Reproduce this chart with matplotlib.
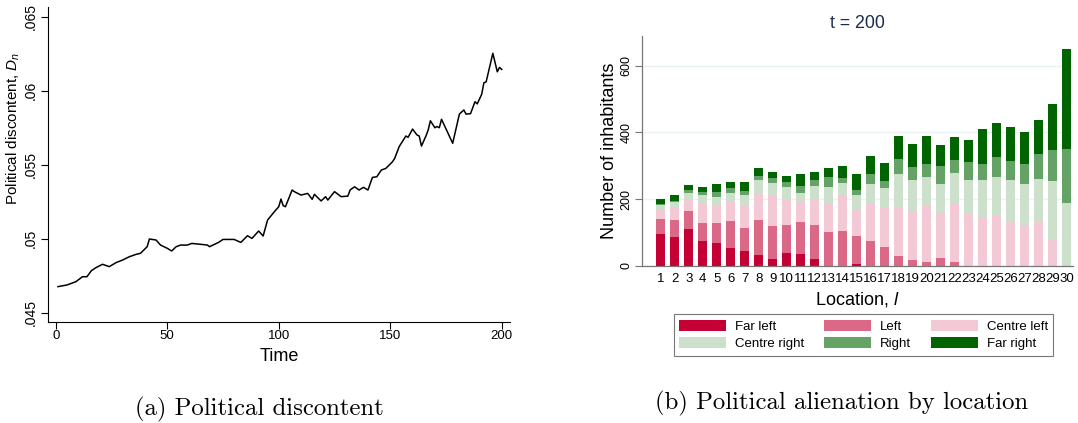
import matplotlib
matplotlib.use("Agg")
import matplotlib.pyplot as plt
import numpy as np

plt.rcParams['font.family'] = ['Liberation Sans', 'DejaVu Sans']
plt.rcParams['mathtext.fontset'] = 'custom'
plt.rcParams['mathtext.it'] = 'Liberation Sans:italic'
plt.rcParams['mathtext.rm'] = 'Liberation Sans'

# --- panel (a): political discontent over time ---
time = [1, 5, 9, 12, 14, 16, 18, 21, 24, 27, 30, 33, 36, 38, 41, 42, 45, 47,
        50, 52, 54, 56, 59, 61, 65, 68, 69, 73, 75, 78, 80, 83, 86, 88, 91,
        93, 95, 98, 100, 101, 102, 103, 106, 107, 110, 113, 115, 116, 119,
        121, 122, 125, 128, 131, 132, 134, 136, 138, 140, 142, 144, 146, 148,
        151, 152, 154, 157, 158, 160, 162, 163, 164, 166, 167, 168, 170, 171,
        172, 173, 178, 181, 183, 184, 186, 188, 189, 191, 192, 193, 196, 198,
        199, 200]
discontent = [.04676, .04687, .04709, .04743, .04743, .04784, .04804, .04827,
              .04811, .04838, .04856, .04878, .04894, .04901, .04946, .04998,
              .04991, .04957, .04935, .04917, .04946, .04957, .04957, .04968,
              .04962, .04957, .04946, .04975, .04995, .04995, .04995, .04975,
              .05020, .05002, .05052, .05018, .05126, .05182, .05216, .05268,
              .05223, .05216, .05329, .05318, .05295, .05306, .05266, .05300,
              .05255, .05284, .05261, .05318, .05284, .05288, .05329, .05351,
              .05329, .05347, .05329, .05414, .05419, .05464, .05475, .05520,
              .05543, .05622, .05694, .05685, .05741, .05701, .05694, .05626,
              .05694, .05734, .05797, .05750, .05758, .05750, .05807, .05645,
              .05842, .05870, .05842, .05845, .05926, .05911, .05976, .06054,
              .06060, .06253, .06128, .06158, .06144]
y_ticks_a = [.045, .05, .055, .06, .065]
y_labels_a = ['.045', '.05', '.055', '.06', '.065']
x_ticks_a = [0, 50, 100, 150, 200]

# --- panel (b): inhabitants by location and political position ---
locations = list(range(1, 31))
groups = ['Far left', 'Left', 'Centre left', 'Centre right', 'Right', 'Far right']
far_left = [94, 87, 111, 74, 69, 53, 43, 32, 19, 37, 35, 19, 0, 0, 4,
            0, 0, 0, 0, 0, 0, 0, 0, 0, 0, 0, 0, 0, 0, 0]
left = [46, 51, 52, 54, 58, 81, 70, 105, 99, 86, 95, 104, 101, 105, 85,
        73, 57, 30, 18, 11, 23, 12, 0, 0, 0, 0, 0, 0, 0, 0]
centre_left = [30, 37, 34, 60, 53, 58, 66, 81, 93, 75, 63, 73, 87, 103, 80,
               114, 116, 147, 144, 170, 134, 173, 155, 145, 149, 133, 121, 131, 81, 0]
centre_right = [13, 15, 22, 25, 27, 25, 32, 39, 38, 38, 26, 43, 49, 41, 43,
                58, 59, 97, 96, 84, 87, 93, 101, 111, 116, 123, 125, 130, 172, 189]
right = [3, 5, 8, 7, 13, 15, 13, 11, 14, 15, 21, 18, 28, 15, 14,
         31, 21, 45, 39, 39, 55, 39, 54, 49, 61, 58, 60, 74, 93, 161]
far_right = [13, 18, 15, 15, 25, 20, 26, 25, 19, 18, 35, 24, 28, 36, 50,
             54, 55, 70, 67, 84, 64, 69, 68, 105, 103, 102, 94, 101, 139, 301]
colors = ['#c40035', '#db6886', '#f2c9d4', '#cce0cc', '#65a266', '#006400']

fig = plt.figure(figsize=(10.78, 4.23), dpi=100)

# left panel
ax1 = fig.add_axes([47.7 / 1078, 1 - 321.7 / 423, (510 - 47.7) / 1078, (321.7 - 7) / 423])
ax1.plot(time, discontent, color='black', lw=1.1)
ax1.set_xlim(-3.6, 203.7)
ax1.set_ylim(.04439, .06566)
ax1.set_yticks(y_ticks_a)
ax1.set_yticklabels(y_labels_a, rotation=90, va='center', fontsize=10)
ax1.set_xticks(x_ticks_a)
ax1.tick_params(axis='x', labelsize=9.5, length=5, width=0.8, pad=1)
ax1.tick_params(axis='y', length=5, width=0.8, pad=2)
for s in ['top', 'right']:
    ax1.spines[s].set_visible(False)
for s in ['left', 'bottom']:
    ax1.spines[s].set_linewidth(0.8)
ax1.set_xlabel('Time', fontsize=13)
ax1.xaxis.set_label_coords(0.5, -0.082)
ax1.set_ylabel('Political discontent, $D_n$', fontsize=11)
ax1.yaxis.set_label_coords(-0.055, 0.614)

# right panel
ax2 = fig.add_axes([642.3 / 1078, 1 - 265.7 / 423, (1073 - 642.3) / 1078, (265.7 - 36) / 423])
layers = [far_left, left, centre_left, centre_right, right, far_right]
bottom = np.zeros(len(locations))
handles = []
for vals, name, c in zip(layers, groups, colors):
    b = ax2.bar(locations, vals, width=0.62, bottom=bottom, color=c, label=name, zorder=2)
    handles.append(b)
    bottom += np.array(vals)
ax2.set_xlim(-0.31, 30.45)
ax2.set_ylim(0, 689)
ax2.set_yticks([0, 200, 400, 600])
ax2.set_yticklabels(['0', '200', '400', '600'], rotation=90, va='center', fontsize=9)
ax2.set_xticks(locations)
ax2.set_xticklabels([str(l) for l in locations], fontsize=9.5)
ax2.tick_params(axis='x', length=0, pad=5)
ax2.tick_params(axis='y', length=5, width=0.8, pad=2, color='#777777')
ax2.grid(axis='y', color='#eaf2f3', lw=1, zorder=0)
for s in ['top', 'right']:
    ax2.spines[s].set_visible(False)
for s in ['left', 'bottom']:
    ax2.spines[s].set_color('#777777')
    ax2.spines[s].set_linewidth(0.9)
ax2.set_title('t = 200', fontsize=12.8, color='#1c2b4a', pad=6)
ax2.set_xlabel('Location, $l$', fontsize=13)
ax2.xaxis.set_label_coords(0.5, -0.105)
ax2.set_ylabel('Number of inhabitants', fontsize=13)
ax2.yaxis.set_label_coords(-0.056, 0.5)

# legend filled row by row
order = [0, 3, 1, 4, 2, 5]
leg = fig.legend([handles[i] for i in order], [groups[i] for i in order],
                 ncol=3, loc='center', bbox_to_anchor=(863.5 / 1078, 1 - 335 / 423),
                 fontsize=9.5, handlelength=3.6, handleheight=0.9, handletextpad=0.65,
                 columnspacing=1.5, labelspacing=0.35, borderpad=0.4,
                 frameon=True, fancybox=False, edgecolor='#555555')
leg.get_frame().set_linewidth(0.8)

# captions
fig.text(259 / 1078, 1 - 409 / 423, '(a) Political discontent', family='cmr10',
         fontsize=17.8, ha='center', va='center')
fig.text(842 / 1078, 1 - 403 / 423, '(b) Political alienation by location', family='cmr10',
         fontsize=17.8, ha='center', va='center')

fig.savefig('out.png', dpi=100)
